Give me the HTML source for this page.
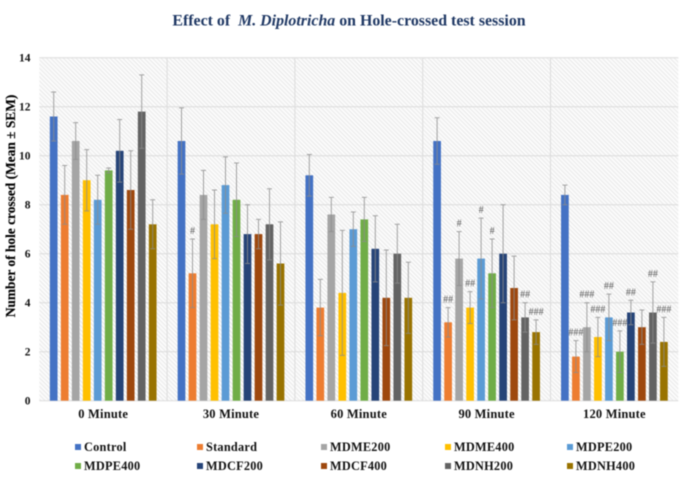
<!DOCTYPE html>
<html>
<head>
<meta charset="utf-8">
<style>
html,body{margin:0;padding:0;background:#fff;width:685px;height:496px;overflow:hidden}
svg{display:block;filter:blur(0.45px)}
text{font-family:"Liberation Serif",serif}
</style>
</head>
<body>
<svg id="chart" xmlns="http://www.w3.org/2000/svg" width="685" height="496" viewBox="0 0 685 496">
<defs>
<pattern id="hatch" patternUnits="userSpaceOnUse" width="3" height="3" patternTransform="rotate(-45)">
<rect width="3" height="3" fill="#fdfdfd"/>
<rect x="0" width="1.3" height="3" fill="#ebebeb"/>
</pattern>
</defs>
<text x="349" y="25.5" text-anchor="middle" font-size="15.9" font-weight="bold" fill="#1f3864" xml:space="preserve">Effect of  <tspan font-style="italic">M. Diplotricha</tspan> on Hole-crossed test session</text>
<rect x="39.3" y="57.7" width="639" height="343" fill="url(#hatch)"/>
<text transform="translate(15,206) rotate(-90)" text-anchor="middle" font-size="13.4" font-weight="bold" fill="#000" stroke="#000" stroke-width="0.15">Number of hole crossed (Mean ± SEM)</text>
<g id="layer-grid"></g>
<g id="layer-bars"></g>
<g id="layer-errors"></g>
<g id="layer-notes"></g>
<g id="layer-axis"></g>
<g id="layer-legend"></g>
</svg>
<script>
const categories = ["0 Minute", "30 Minute", "60 Minute", "90 Minute", "120 Minute"];
const seriesNames = ["Control", "Standard", "MDME200", "MDME400", "MDPE200", "MDPE400", "MDCF200", "MDCF400", "MDNH200", "MDNH400"];
const seriesColors = ["#4472c4", "#ed7d31", "#a5a5a5", "#ffc000", "#5b9bd5", "#70ad47", "#264478", "#9e480e", "#636363", "#997300"];
const yTicks = [0, 2, 4, 6, 8, 10, 12, 14];

const means0 = [11.6, 8.4, 10.6, 9.0, 8.2, 9.4, 10.2, 8.6, 11.8, 7.2];
const means30 = [10.6, 5.2, 8.4, 7.2, 8.8, 8.2, 6.8, 6.8, 7.2, 5.6];
const means60 = [9.2, 3.8, 7.6, 4.4, 7.0, 7.4, 6.2, 4.2, 6.0, 4.2];
const means90 = [10.6, 3.2, 5.8, 3.8, 5.8, 5.2, 6.0, 4.6, 3.4, 2.8];
const means120 = [8.4, 1.8, 3.0, 2.6, 3.4, 2.0, 3.6, 3.0, 3.6, 2.4];

const errors0 = [1.0, 1.2, 0.75, 1.25, 1.0, 0.1, 1.28, 1.6, 1.5, 1.0];
const errors30 = [1.35, 1.4, 1.0, 1.4, 1.15, 1.5, 1.2, 0.6, 1.45, 1.7];
const errors60 = [0.85, 1.15, 0.7, 2.55, 0.7, 0.9, 1.35, 1.95, 1.2, 1.45];
const errors90 = [0.95, 0.6, 1.1, 0.65, 1.65, 1.4, 2.0, 1.3, 0.6, 0.5];
const errors120 = [0.4, 0.65, 1.0, 0.8, 0.95, 0.85, 0.5, 0.7, 1.25, 1.0];

const marks0 = ["", "", "", "", "", "", "", "", "", ""];
const marks30 = ["", "#", "", "", "", "", "", "", "", ""];
const marks60 = ["", "", "", "", "", "", "", "", "", ""];
const marks90 = ["", "##", "#", "##", "#", "#", "", "", "##", "###"];
const marks120 = ["", "###", "###", "###", "##", "###", "##", "", "##", "###"];

const allMeans = [means0, means30, means60, means90, means120];
const allErrors = [errors0, errors30, errors60, errors90, errors120];
const allMarks = [marks0, marks30, marks60, marks90, marks120];

const NS = "http://www.w3.org/2000/svg";
const plotLeft = 39.3, groupWidth = 127.8, barPitch = 11, barWidth = 7.7;
const yZero = 400.7, pxPerUnit = 24.5;
function yScale(v) { return yZero - v * pxPerUnit; }
function groupX(i) { return plotLeft + i * groupWidth; }
function barX(g, s) { return groupX(g) + groupWidth / 2 - (barPitch * 9 + barWidth) / 2 + s * barPitch; }
function make(tag, attrs, parent) {
  const el = document.createElementNS(NS, tag);
  for (const k in attrs) el.setAttribute(k, attrs[k]);
  parent.appendChild(el);
  return el;
}
const gridLayer = document.getElementById("layer-grid");
const barLayer = document.getElementById("layer-bars");
const errLayer = document.getElementById("layer-errors");
const noteLayer = document.getElementById("layer-notes");
const axisLayer = document.getElementById("layer-axis");
const legendLayer = document.getElementById("layer-legend");

yTicks.forEach(function (t) {
  const line = make("line", {x1: plotLeft, x2: groupX(5), y1: yScale(t), y2: yScale(t), stroke: "#dcdcdc", "stroke-width": 1}, gridLayer);
  
  
  const label = make("text", {x: 30.5, y: yScale(t) + 4, "text-anchor": "end", "font-size": 11.5, "font-weight": "bold", fill: "#111"}, axisLayer);
  label.textContent = t;
  
  
});
for (let i = 1; i < categories.length; i++) {
  const sep = make("line", {x1: groupX(i), x2: groupX(i), y1: yScale(14), y2: yZero, stroke: "#dcdcdc", "stroke-width": 1}, gridLayer);
  
  
}
categories.forEach(function (c, g) {
  const label = make("text", {x: groupX(g) + groupWidth / 2, y: 418, "text-anchor": "middle", "font-size": 12.5, "font-weight": "bold", fill: "#111", "letter-spacing": "0.2"}, axisLayer);
  label.textContent = c;
  
  
  allMeans[g].forEach(function (v, s) {
    const x = barX(g, s), cx = x + barWidth / 2;
    const bar = make("rect", {x: x, y: yScale(v), width: barWidth, height: yZero - yScale(v), fill: seriesColors[s]}, barLayer);
    
    
    const e = allErrors[g][s];
    const hi = yScale(v + e), lo = yScale(v - e);
    const d = "M" + cx + " " + hi + "V" + lo + "M" + (cx - 2.5) + " " + hi + "H" + (cx + 2.5) + "M" + (cx - 2.5) + " " + lo + "H" + (cx + 2.5);
    const err = make("path", {d: d, fill: "none", stroke: "#8c8c8c", "stroke-opacity": 0.8, "stroke-width": 1}, errLayer);
    
    
    const m = allMarks[g][s];
    if (m) {
      const note = make("text", {x: cx, y: hi - 5, "text-anchor": "middle", "font-size": 10, fill: "#5a5a5a"}, noteLayer);
      note.textContent = m;
      
      
    }
  });
});
const legendCols = [75, 197, 321, 445, 567];
const legendRows = [447, 466];
seriesNames.forEach(function (n, s) {
  const col = legendCols[s % 5], row = legendRows[Math.floor(s / 5)];
  const sw = make("rect", {x: col, y: row - 3, width: 6, height: 6, fill: seriesColors[s]}, legendLayer);
  
  
  const txt = make("text", {x: col + 9, y: row + 4, "font-size": 12.3, "font-weight": "bold", fill: "#111", "letter-spacing": "0.25"}, legendLayer);
  txt.textContent = n;
  
  
});
</script>
</body>
</html>
